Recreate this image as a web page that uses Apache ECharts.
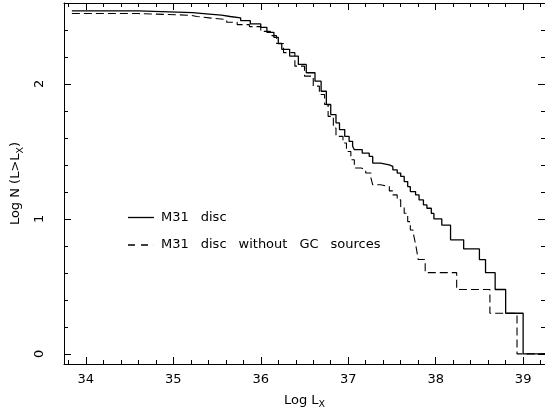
<!DOCTYPE html>
<html>
<head>
<meta charset="utf-8">
<script src="https://cdn.jsdelivr.net/npm/echarts@6/dist/echarts.min.js"></script>
<style>html,body{margin:0;padding:0;background:#fff;}#c{width:545px;height:415px;}</style>
</head>
<body>
<div id="c"></div>
<script>
// Data
const solidLogL = [33.84,34.60,35.22,35.41,35.55,35.65,35.77,35.88,36.00,36.07,36.15,36.20,36.24,36.33,36.43,36.52,36.62,36.69,36.75,36.80,36.86,36.90,36.96,37.01,37.05,37.07,37.16,37.24,37.28,37.37,37.47,37.51,37.56,37.60,37.64,37.68,37.71,37.77,37.81,37.86,37.90,37.95,37.98,38.07,38.17,38.32,38.50,38.57,38.68,38.80,39.00,39.25];
const solidLogN = [2.541,2.529,2.518,2.510,2.500,2.490,2.470,2.445,2.420,2.383,2.346,2.300,2.257,2.207,2.145,2.083,2.021,1.946,1.848,1.773,1.712,1.662,1.612,1.575,1.538,1.513,1.488,1.463,1.414,1.401,1.389,1.364,1.340,1.315,1.277,1.240,1.203,1.178,1.141,1.104,1.079,1.041,1.000,0.954,0.845,0.778,0.699,0.602,0.477,0.301,0.000,0.000];
const dashLogL = [33.84,34.60,35.20,35.27,35.45,35.61,35.73,35.87,36.00,36.11,36.18,36.26,36.39,36.50,36.60,36.67,36.73,36.77,36.83,36.86,36.94,36.98,37.03,37.07,37.15,37.20,37.26,37.28,37.37,37.47,37.51,37.56,37.60,37.64,37.68,37.71,37.74,37.76,37.78,37.80,37.88,38.24,38.62,38.93,39.25];
const dashLogN = [2.522,2.509,2.500,2.487,2.477,2.457,2.440,2.425,2.390,2.358,2.300,2.232,2.132,2.058,1.984,1.922,1.848,1.760,1.674,1.612,1.563,1.500,1.439,1.377,1.364,1.340,1.302,1.253,1.240,1.208,1.178,1.141,1.091,1.042,0.980,0.918,0.903,0.845,0.778,0.699,0.602,0.477,0.301,0.000,0.000];
const seriesNames = ['M31 disc', 'M31 disc without GC sources'];
const xMajor = [34,35,36,37,38,39];
const xMinor = [33.8,34.2,34.4,34.6,34.8,35.2,35.4,35.6,35.8,36.2,36.4,36.6,36.8,37.2,37.4,37.6,37.8,38.2,38.4,38.6,38.8,39.2];
const yMajor = [0,1,2];
const yMinor = [0.2,0.4,0.6,0.8,1.2,1.4,1.6,1.8,2.2,2.4];
const X_MIN = 33.75, X_MAX = 39.25, Y_MIN = -0.075, Y_MAX = 2.6;

const FONT = '"DejaVu Sans", sans-serif';
const FS = 13;
const black = '#000';
function xAx(pos, ticks, len, labels, line) {
  return {
    type: 'value', position: pos, min: X_MIN, max: X_MAX,
    axisLine: { show: line, onZero: false, lineStyle: { color: black, width: 1 } },
    axisTick: { show: true, inside: true, length: len, customValues: ticks, lineStyle: { color: black, width: 1 } },
    axisLabel: labels ? { show: true, customValues: xMajor, color: black, fontSize: FS, fontFamily: FONT, margin: 9 } : { show: false },
    splitLine: { show: false }
  };
}
function yAx(pos, ticks, len, labels, line) {
  return {
    type: 'value', position: pos, min: Y_MIN, max: Y_MAX,
    axisLine: { show: line, onZero: false, lineStyle: { color: black, width: 1 } },
    axisTick: { show: true, inside: true, length: len, customValues: ticks, lineStyle: { color: black, width: 1 } },
    axisLabel: labels ? { show: true, customValues: yMajor, rotate: 90, color: black, fontSize: FS, fontFamily: FONT, margin: 18 } : { show: false },
    splitLine: { show: false }
  };
}
const nameStyle = { color: black, fontSize: FS, fontFamily: FONT, rich: { s: { fontSize: 9.5, fontFamily: FONT, color: black, padding: [8, 0, 0, 0] } } };
const xAxes = [xAx('bottom', xMajor, 7, true, true), xAx('bottom', xMinor, 4, false, false), xAx('top', xMajor, 7, false, true), xAx('top', xMinor, 4, false, false)];
Object.assign(xAxes[0], { name: 'Log L{s|X}', nameLocation: 'middle', nameGap: 28, nameTextStyle: nameStyle });
const yAxes = [yAx('left', yMajor, 7, true, true), yAx('left', yMinor, 4, false, false), yAx('right', yMajor, 7, false, true), yAx('right', yMinor, 4, false, false)];
Object.assign(yAxes[0], { name: 'Log N (L>L{s|X})', nameLocation: 'middle', nameGap: 36, nameTextStyle: nameStyle });

const chart = echarts.init(document.getElementById('c'), null, { renderer: 'canvas' });
chart.setOption({
  animation: false,
  backgroundColor: '#fff',
  grid: { left: 64, right: -2, top: 3, bottom: 51 },
  xAxis: xAxes,
  yAxis: yAxes,
  legend: {
    orient: 'vertical', left: 128, top: 211, padding: 0, itemWidth: 26, itemHeight: 1.3, itemGap: 14.5,
    data: [
      { name: seriesNames[0], icon: 'path://M0,0H26V1.3H0Z' },
      { name: seriesNames[1], icon: 'path://M0,0H7V1.3H0Z M13,0H20V1.3H13Z M25.9,0H26V1.3H25.9Z' }
    ],
    itemStyle: { color: black },
    formatter: function (name) { return '{t|' + name.split(' ').join('}{g| }{t|') + '}'; },
    textStyle: { color: black, fontSize: FS, fontFamily: FONT, padding: [0, 0, 0, 2],
      rich: { t: { fontSize: FS, fontFamily: FONT, color: black }, g: { width: 12, fontSize: FS, fontFamily: FONT } } }
  },
  series: [
    { name: seriesNames[0], type: 'line', step: 'end', symbol: 'none', xAxisIndex: 0, yAxisIndex: 0,
      lineStyle: { color: black, width: 1.3, type: 'solid' }, itemStyle: { color: black },
      data: solidLogL.map((x, i) => [x, solidLogN[i]]) },
    { name: seriesNames[1], type: 'line', step: 'end', symbol: 'none', xAxisIndex: 0, yAxisIndex: 0,
      lineStyle: { color: black, width: 1.1, type: [8, 4] }, itemStyle: { color: black },
      data: dashLogL.map((x, i) => [x, dashLogN[i]]) }
  ]
});
</script>
</body>
</html>
